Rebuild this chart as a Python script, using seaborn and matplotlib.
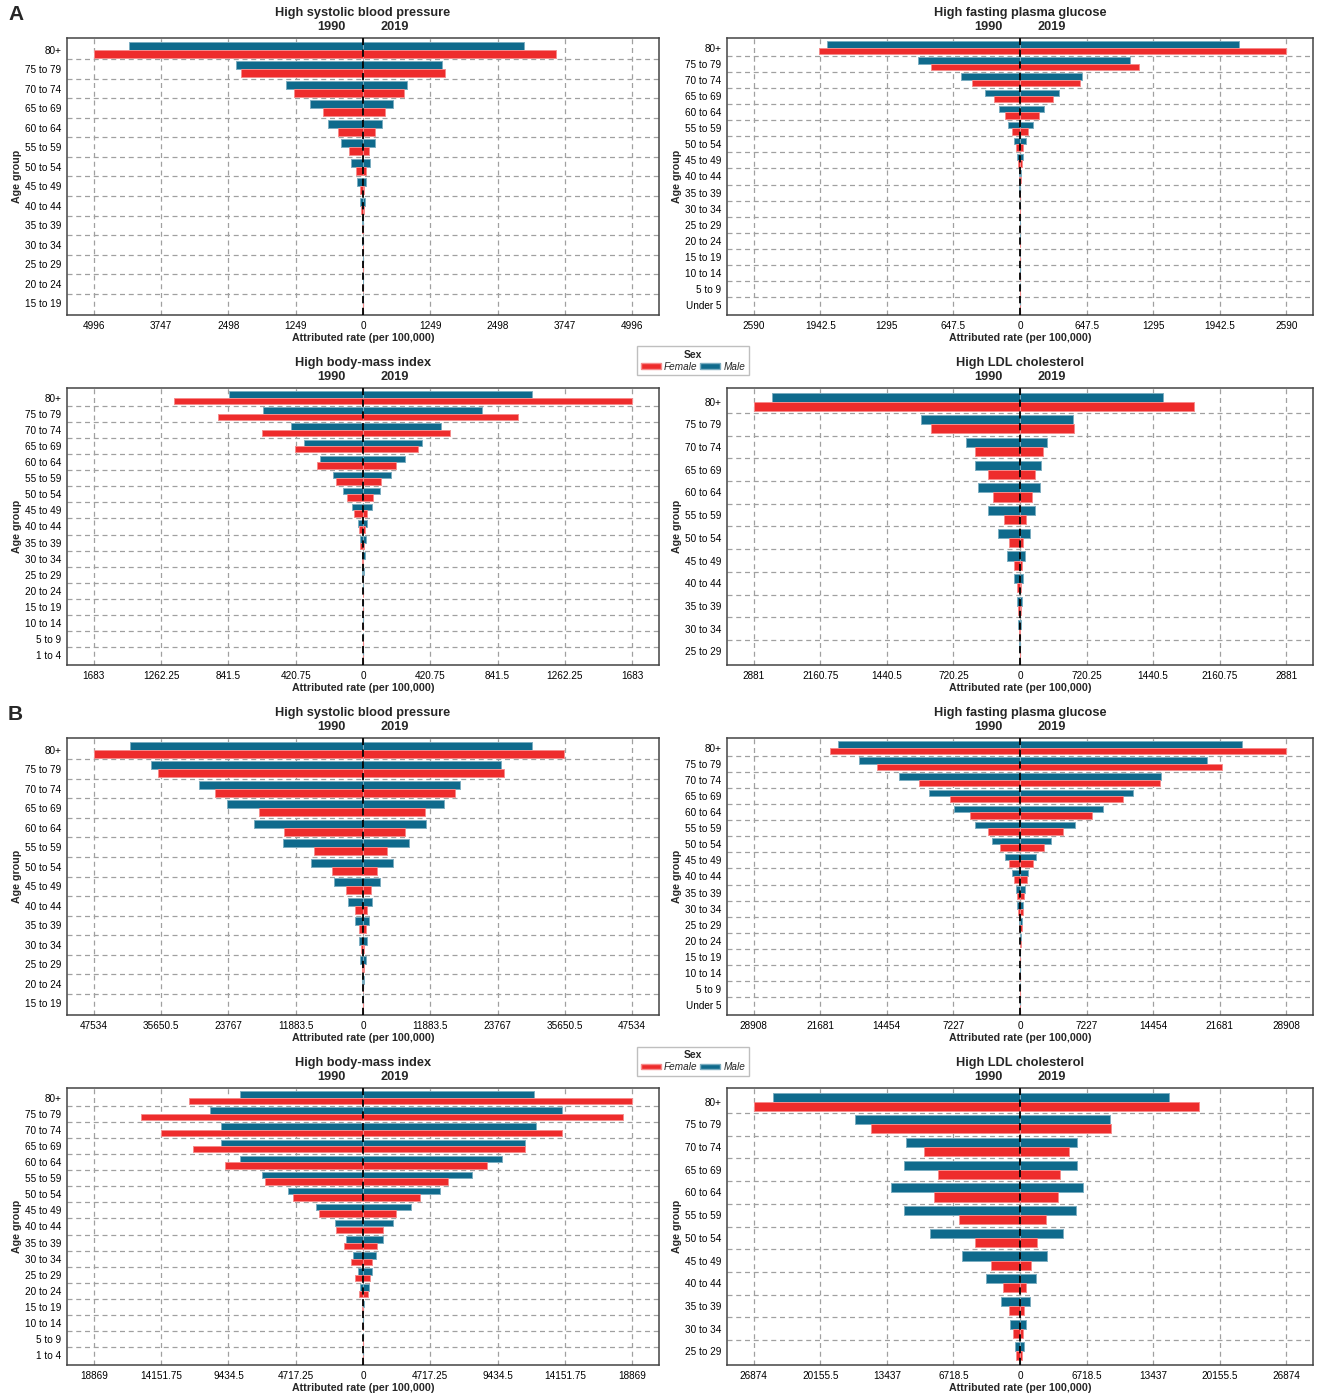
import numpy as np
import pandas as pd
import matplotlib
matplotlib.use("Agg")
import matplotlib.pyplot as plt
import matplotlib.patches as mpatches
import matplotlib.colors as mcolors
import seaborn as sns

RED = "#EE2C2C"
BLUE = "#0F6A8C"

# ── age groups ───────────────────────────────────────────────
ages_sbp = ["80+", "75 to 79", "70 to 74", "65 to 69", "60 to 64", "55 to 59", "50 to 54",
            "45 to 49", "40 to 44", "35 to 39", "30 to 34", "25 to 29", "20 to 24", "15 to 19"]
ages_fpg = ages_sbp + ["10 to 14", "5 to 9", "Under 5"]
ages_bmi = ages_sbp + ["10 to 14", "5 to 9", "1 to 4"]
ages_ldl = ages_sbp[:12]

# ── A: rates (per 100,000) ───────────────────────────────────
a_sbp_m90 = [4338, 2349, 1433, 979, 658, 415, 227, 110, 55, 23, 10, 4, 1.5, 0.5]
a_sbp_f90 = [4996, 2263, 1284, 736, 462, 251, 125, 63, 31, 12, 5, 2, 1, 0.3]
a_sbp_m19 = [2983, 1472, 822, 564, 360, 227, 125, 63, 31, 8, 5, 2, 1, 0.3]
a_sbp_f19 = [3586, 1519, 767, 415, 227, 110, 55, 23, 16, 5, 3, 1, 0.5, 0.2]

a_fpg_m90 = [1874, 990, 569, 344, 205, 119, 61, 25, 12, 5, 2, 1, 0.5, 0.3, 0.2, 0.1, 0.1]
a_fpg_f90 = [1956, 867, 470, 254, 147, 74, 41, 16, 6, 3, 1.5, 0.8, 0.4, 0.2, 0.1, 0.1, 0.1]
a_fpg_m19 = [2127, 1068, 601, 380, 233, 127, 57, 25, 8, 4, 2, 1, 0.5, 0.3, 0.2, 0.1, 0.1]
a_fpg_f19 = [2590, 1154, 585, 323, 180, 78, 33, 16, 5, 2, 1, 0.6, 0.3, 0.2, 0.1, 0.1, 0.1]

a_bmi_m90 = [838, 626, 452, 367, 269, 188, 122, 66, 34, 18, 8, 4, 1.5, 0.5, 0.3, 0.2, 0.1]
a_bmi_f90 = [1181, 906, 634, 428, 288, 169, 103, 55, 26, 16, 8, 3, 1.2, 0.5, 0.3, 0.2, 0.1]
a_bmi_m19 = [1059, 745, 489, 367, 264, 177, 106, 55, 26, 16, 10, 4, 2, 0.8, 0.4, 0.3, 0.2]
a_bmi_f19 = [1683, 972, 544, 343, 209, 114, 61, 26, 13, 5, 3, 2, 1, 0.5, 0.3, 0.2, 0.1]

a_ldl_m90 = [2685, 1069, 583, 487, 451, 350, 237, 137, 68, 32, 18, 7]
a_ldl_f90 = [2881, 965, 492, 346, 296, 177, 114, 64, 32, 18, 9, 3]
a_ldl_m19 = [1552, 569, 287, 232, 218, 164, 109, 59, 32, 18, 14, 5]
a_ldl_f19 = [1880, 583, 250, 164, 127, 68, 36, 23, 14, 9, 5, 2]

# ── B: rates (per 100,000) ───────────────────────────────────
b_sbp_m90 = [41190, 37460, 28950, 24100, 19250, 14100, 9178, 5074, 2612, 1343, 746, 448, 100, 40]
b_sbp_f90 = [47534, 36190, 26190, 18430, 13880, 8730, 5447, 2985, 1492, 746, 373, 224, 60, 20]
b_sbp_m19 = [29850, 24330, 17160, 14250, 11120, 8134, 5298, 2985, 1642, 1045, 672, 448, 120, 40]
b_sbp_f19 = [35520, 24850, 16190, 11040, 7462, 4253, 2537, 1418, 746, 448, 224, 149, 50, 15]

b_fpg_m90 = [19730, 17490, 13110, 9865, 7216, 4887, 3014, 1598, 868, 457, 274, 137, 46, 23, 10, 5, 3]
b_fpg_f90 = [20600, 15480, 10960, 7581, 5480, 3471, 2192, 1142, 639, 365, 228, 91, 40, 20, 10, 5, 3]
b_fpg_m19 = [24110, 20320, 15350, 12240, 9043, 5983, 3380, 1735, 913, 548, 320, 228, 91, 30, 12, 6, 4]
b_fpg_f19 = [28908, 21880, 15210, 11140, 7855, 4613, 2603, 1370, 731, 457, 274, 183, 60, 25, 10, 5, 3]

b_bmi_m90 = [8650, 10720, 9953, 9923, 8650, 7050, 5272, 3317, 1985, 1185, 711, 385, 178, 30, 10, 5, 3]
b_bmi_f90 = [12200, 15580, 14130, 11910, 9686, 6842, 4917, 3080, 1925, 1303, 829, 533, 267, 40, 10, 5, 3]
b_bmi_m19 = [12000, 13920, 12110, 11340, 9715, 7672, 5391, 3347, 2073, 1392, 918, 622, 415, 40, 12, 6, 3]
b_bmi_f19 = [18869, 18220, 13920, 11370, 8708, 5954, 3999, 2340, 1422, 977, 652, 474, 326, 35, 10, 5, 3]

b_ldl_m90 = [24920, 16640, 11500, 11720, 13030, 11720, 9084, 5858, 3396, 1868, 976, 509]
b_ldl_f90 = [26874, 15070, 9721, 8320, 8660, 6155, 4585, 2929, 1740, 1061, 722, 382]
b_ldl_m19 = [14990, 9042, 5731, 5773, 6325, 5646, 4330, 2759, 1656, 1019, 594, 382]
b_ldl_f19 = [18080, 9169, 4924, 4075, 3821, 2589, 1698, 1104, 637, 382, 255, 212]

sns.set_style("white")
plt.rcParams["font.family"] = ["Liberation Sans", "DejaVu Sans"]

W, H = 1325, 1398
fig = plt.figure(figsize=(W / 100, H / 100), dpi=100)


def lighter(c, f=0.45):
    rgb = np.array(mcolors.to_rgb(c))
    return tuple(rgb + (1 - rgb) * f)


def fmt(v):
    return f"{abs(v):.4f}".rstrip("0").rstrip(".")


def pyramid(rect, ages, m90, f90, m19, f19, title):
    ax = fig.add_axes(rect)
    n = len(ages)
    sex = ["Male"] * n + ["Female"] * n
    d90 = pd.DataFrame({"age": ages * 2, "sex": sex, "rate": [-v for v in m90 + f90]})
    d19 = pd.DataFrame({"age": ages * 2, "sex": sex, "rate": m19 + f19})
    for d in (d90, d19):
        sns.barplot(data=d, x="rate", y="age", hue="sex", order=ages,
                    hue_order=["Male", "Female"], palette={"Male": BLUE, "Female": RED},
                    orient="h", width=0.8, errorbar=None, legend=False, saturation=1,
                    linewidth=0.7, ax=ax, zorder=2)
    for p in ax.patches:
        p.set_edgecolor(lighter(p.get_facecolor()))

    vmax = max(m90 + f90 + m19 + f19)
    ticks = vmax * np.array([-1, -0.75, -0.5, -0.25, 0, 0.25, 0.5, 0.75, 1])
    ax.set_xlim(-1.1 * vmax, 1.1 * vmax)
    ax.set_xticks(ticks)
    ax.set_xticklabels([fmt(t) for t in ticks])
    ax.set_ylim(n - 0.4, -0.6)
    ax.set_yticks(np.arange(n - 1) + 0.5, minor=True)

    gkw = dict(color="#a0a0a0", lw=0.9, ls=(0, (4, 3)))
    ax.grid(axis="x", which="major", **gkw)
    ax.grid(axis="y", which="minor", **gkw)
    ax.grid(axis="y", which="major", visible=False)
    ax.set_axisbelow(True)
    ax.axvline(0, color="black", lw=1.3, ls=(0, (4, 2.5)), zorder=4)

    for s in ax.spines.values():
        s.set_visible(True)
        s.set_color("#444444")
        s.set_linewidth(1.1)
    ax.tick_params(axis="both", which="major", length=2.5, width=0.8, color="#333333",
                   labelsize=7.2, pad=1.5, labelcolor="black")
    ax.tick_params(axis="both", which="minor", length=0)
    ax.set_xlabel("Attributed rate (per 100,000)", fontsize=7.7, fontweight="bold", labelpad=2)
    ax.set_ylabel("Age group", fontsize=7.7, fontweight="bold", labelpad=2)

    h_px = rect[3] * H
    ax.text(0.5, 1 + 25 / h_px, title, transform=ax.transAxes, ha="center", va="center",
            fontsize=9.2, fontweight="bold")
    ax.text(0.446, 1 + 11 / h_px, "1990", transform=ax.transAxes, ha="center", va="center",
            fontsize=9.2, fontweight="bold")
    ax.text(0.554, 1 + 11 / h_px, "2019", transform=ax.transAxes, ha="center", va="center",
            fontsize=9.2, fontweight="bold")
    return ax


def rect(x0, x1, top, bottom):
    return [x0 / W, 1 - bottom / H, (x1 - x0) / W, (bottom - top) / H]


LX, RX = (67, 659), (727, 1313)
rows = [(38, 315), (388, 665), (738, 1015), (1088, 1365)]

pyramid(rect(*LX, *rows[0]), ages_sbp, a_sbp_m90, a_sbp_f90, a_sbp_m19, a_sbp_f19, "High systolic blood pressure")
pyramid(rect(*RX, *rows[0]), ages_fpg, a_fpg_m90, a_fpg_f90, a_fpg_m19, a_fpg_f19, "High fasting plasma glucose")
pyramid(rect(*LX, *rows[1]), ages_bmi, a_bmi_m90, a_bmi_f90, a_bmi_m19, a_bmi_f19, "High body-mass index")
pyramid(rect(*RX, *rows[1]), ages_ldl, a_ldl_m90, a_ldl_f90, a_ldl_m19, a_ldl_f19, "High LDL cholesterol")
pyramid(rect(*LX, *rows[2]), ages_sbp, b_sbp_m90, b_sbp_f90, b_sbp_m19, b_sbp_f19, "High systolic blood pressure")
pyramid(rect(*RX, *rows[2]), ages_fpg, b_fpg_m90, b_fpg_f90, b_fpg_m19, b_fpg_f19, "High fasting plasma glucose")
pyramid(rect(*LX, *rows[3]), ages_bmi, b_bmi_m90, b_bmi_f90, b_bmi_m19, b_bmi_f19, "High body-mass index")
pyramid(rect(*RX, *rows[3]), ages_ldl, b_ldl_m90, b_ldl_f90, b_ldl_m19, b_ldl_f19, "High LDL cholesterol")

# panel letters
fig.text(8 / W, 1 - 14 / H, "A", fontsize=15, fontweight="bold", va="center", ha="left")
fig.text(8 / W, 1 - 714 / H, "B", fontsize=15, fontweight="bold", va="center", ha="left")

# shared legends
handles = [mpatches.Patch(facecolor=RED, edgecolor=lighter(RED), label="Female"),
           mpatches.Patch(facecolor=BLUE, edgecolor=lighter(BLUE), label="Male")]
for yc in (360.5, 1061):
    fig.legend(handles=handles, loc="center", bbox_to_anchor=(693 / W, 1 - yc / H), ncol=2,
               title="Sex", title_fontproperties={"weight": "bold", "size": 7.5},
               prop={"style": "italic", "size": 7.2}, handlelength=2.0, handleheight=0.5,
               handletextpad=0.3, columnspacing=0.3, frameon=True, edgecolor="#b0b0b0",
               fancybox=False, borderpad=0.35, labelspacing=0.2)

fig.savefig("out.png", dpi=100, facecolor="white")
